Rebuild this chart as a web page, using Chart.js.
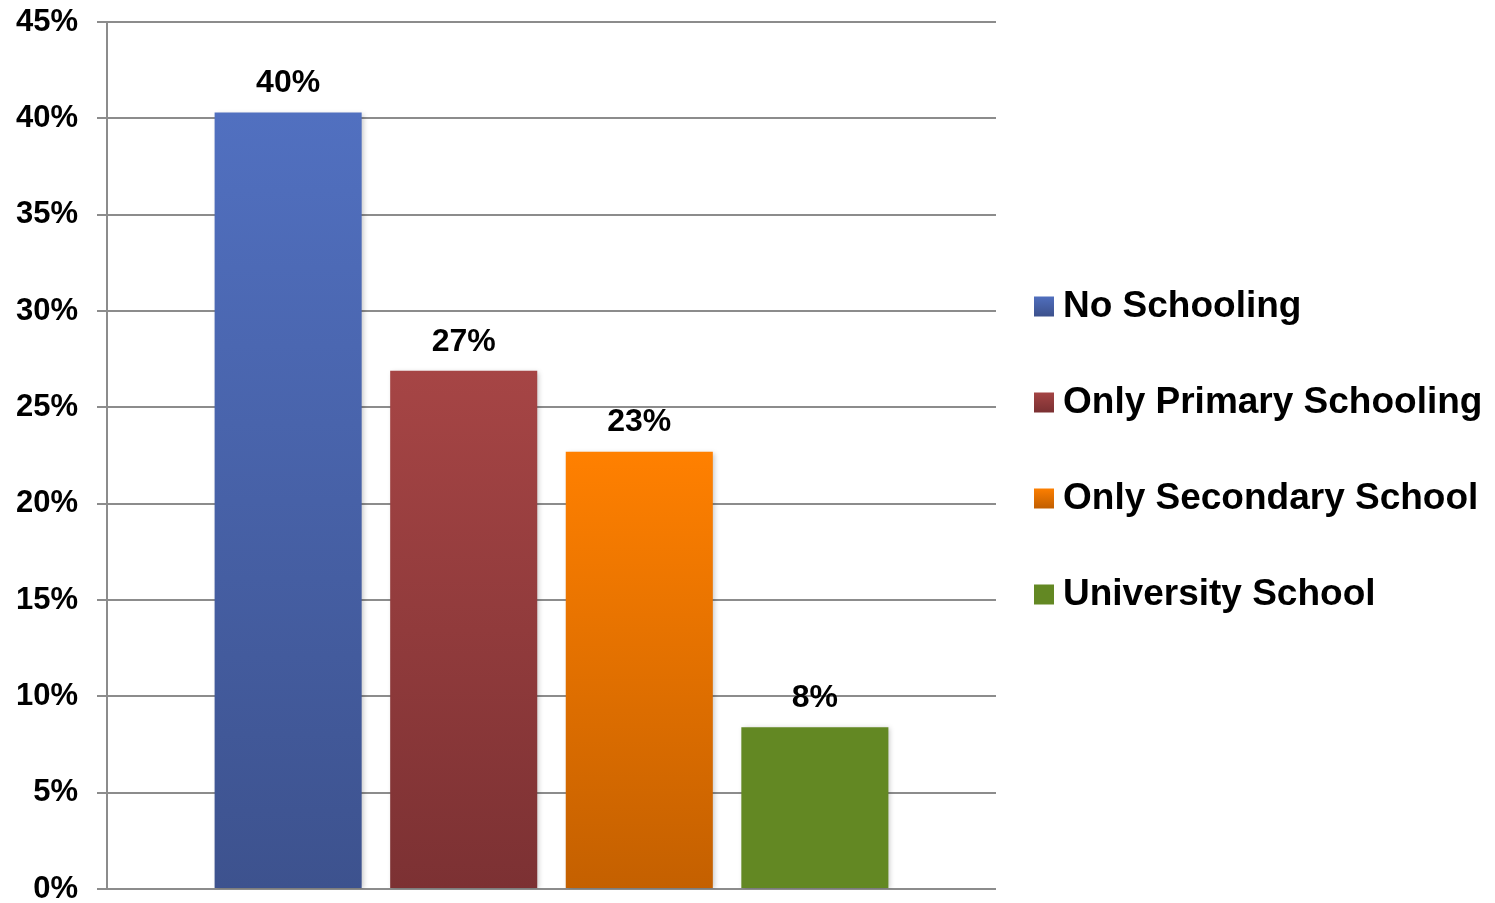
<!DOCTYPE html>
<html>
<head>
<meta charset="utf-8">
<title>Schooling</title>
<script src="https://cdn.jsdelivr.net/npm/chart.js@4/dist/chart.umd.min.js"></script>
<style>
    html, body { margin: 0; padding: 0; background: #ffffff; }
    #wrap { width: 1495px; height: 903px; position: relative; }
</style>
</head>
<body>
<div id="wrap"><canvas id="chart"></canvas></div>
<script>
const categories = [""];
const seriesNames = ["No Schooling", "Only Primary Schooling", "Only Secondary School", "University School"];
const seriesValues = [40.3, 26.9, 22.7, 8.4];
const tickValues = [0, 5, 10, 15, 20, 25, 30, 35, 40, 45];

// top / bottom colours of each bar's fill
const topColors = ["#5170c0", "#a64545", "#ff8000", "#638823"];
const bottomColors = ["#3d528e", "#7c3133", "#c46000", "#638823"];

const fontFamily = "'Liberation Sans', Arial, sans-serif";
const gridColor = "#8c8c8c";

function barGradient(ctx, chart, index) {
    const area = chart.chartArea;
    if (!area) {
        return topColors[index];
    }
    const yTop = chart.scales.y.getPixelForValue(seriesValues[index]);
    const g = ctx.createLinearGradient(0, yTop, 0, area.bottom);
    g.addColorStop(0, topColors[index]);
    g.addColorStop(1, bottomColors[index]);
    return g;
}

const barShadow = {
    id: "barShadow",
    beforeDatasetDraw(chart) {
        const ctx = chart.ctx;
        ctx.save();
        ctx.shadowColor = "rgba(0,0,0,0.22)";
        ctx.shadowBlur = 5;
        ctx.shadowOffsetX = 2;
        ctx.shadowOffsetY = 1;
    },
    afterDatasetDraw(chart) {
        chart.ctx.restore();
    }
};

const valueLabels = {
    id: "valueLabels",
    afterDatasetsDraw(chart) {
        const ctx = chart.ctx;
        ctx.save();
        ctx.font = "bold 32px " + fontFamily;
        ctx.fillStyle = "#000000";
        ctx.textAlign = "center";
        ctx.textBaseline = "middle";
        chart.data.datasets.forEach((ds, i) => {
            const bar = chart.getDatasetMeta(i).data[0];
            ctx.fillText(Math.round(ds.data[0]) + "%", bar.x, bar.y - 29);
        });
        ctx.restore();
    }
};

const sideLegend = {
    id: "sideLegend",
    afterDraw(chart) {
        const ctx = chart.ctx;
        const area = chart.chartArea;
        const rowGap = 96;
        const midY = chart.height / 2 - 2;
        const n = chart.data.datasets.length;
        ctx.save();
        ctx.font = "bold 37px " + fontFamily;
        ctx.fillStyle = "#000000";
        ctx.textAlign = "left";
        ctx.textBaseline = "middle";
        chart.data.datasets.forEach((ds, i) => {
            const y = midY + (i - (n - 1) / 2) * rowGap;
            const bx = area.right + 38;
            const g = ctx.createLinearGradient(0, y - 10, 0, y + 10);
            g.addColorStop(0, topColors[i]);
            g.addColorStop(1, bottomColors[i]);
            ctx.fillStyle = g;
            ctx.fillRect(bx, y - 9, 20, 20);
            ctx.fillStyle = "#000000";
            ctx.fillText(ds.label, area.right + 67, y + 1);
        });
        ctx.restore();
    }
};

new Chart(document.getElementById("chart"), {
    type: "bar",
    data: {
        labels: categories,
        datasets: seriesNames.map((name, i) => ({
            label: name,
            data: [seriesValues[i]],
            backgroundColor: (c) => barGradient(c.chart.ctx, c.chart, i),
            borderWidth: 0,
            categoryPercentage: 0.79,
            barPercentage: 0.8376
        }))
    },
    options: {
        responsive: true,
        maintainAspectRatio: false,
        animation: false,
        layout: {
            padding: { top: 22, right: 499, bottom: 14, left: 0 }
        },
        plugins: {
            legend: { display: false },
            tooltip: { enabled: false }
        },
        scales: {
            x: {
                display: false
            },
            y: {
                min: 0,
                max: 45,
                afterBuildTicks: (scale) => {
                    scale.ticks = tickValues.map((v) => ({ value: v }));
                },
                afterFit: (scale) => {
                    scale.width = 107;
                    scale.paddingTop = 0;
                    scale.paddingBottom = 0;
                },
                ticks: {
                    padding: 19,
                    color: "#000000",
                    font: { family: fontFamily, size: 31, weight: "bold", lineHeight: 1 },
                    callback: (v) => v + "%"
                },
                grid: {
                    color: gridColor,
                    lineWidth: 2,
                    tickLength: 10,
                    drawTicks: true
                },
                border: {
                    display: true,
                    color: gridColor,
                    width: 2
                }
            }
        }
    },
    plugins: [barShadow, valueLabels, sideLegend]
});
</script>
</body>
</html>
